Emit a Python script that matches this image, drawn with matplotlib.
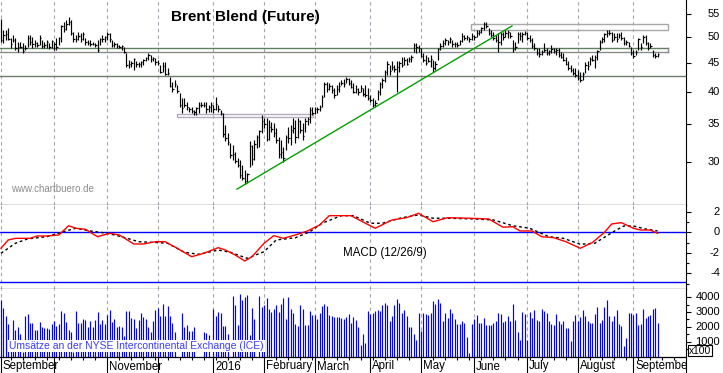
import numpy as np
import pandas as pd
import matplotlib
matplotlib.use("Agg")
import matplotlib.pyplot as plt
from matplotlib.collections import LineCollection
from matplotlib.patches import Rectangle
from matplotlib.lines import Line2D
from matplotlib.ticker import FixedLocator, NullLocator, NullFormatter
from matplotlib.transforms import Bbox, TransformedBbox, blended_transform_factory

plt.rcParams['font.family'] = ['Liberation Sans', 'DejaVu Sans']
plt.rcParams['axes.unicode_minus'] = False

# ---------------- data (daily, business days from 2015-09-01) ----------------
start_date = '2015-09-01'

high = [
    53.9, 51.5, 51.5, 52.0, 49.9, 50.5, 49.9, 49.1, 49.1, 48.9,
    48.5, 50.5, 50.5, 50.1, 49.5, 49.1, 50.5, 49.5, 49.1, 49.5,
    48.9, 49.5, 49.1, 49.9, 50.1, 52.6, 53.3, 53.7, 54.4, 53.7,
    51.1, 50.5, 51.1, 50.9, 51.1, 49.9, 49.5, 49.5, 49.1, 48.9,
    49.5, 49.9, 50.5, 50.3, 51.1, 50.9, 49.5, 49.1, 48.9, 48.5,
    48.5, 48.1, 46.9, 45.6, 45.3, 46.0, 45.3, 45.1, 45.3, 45.8,
    46.2, 46.9, 46.5, 46.2, 46.0, 45.6, 44.6, 45.1, 45.1, 44.1,
    42.5, 41.6, 42.0, 41.1, 39.8, 39.0, 39.0, 38.4, 37.6, 37.5,
    37.1, 37.6, 38.4, 38.4, 38.3, 38.4, 37.9, 38.4, 37.9, 39.2,
    37.9, 37.1, 36.7, 34.9, 33.8, 32.4, 32.1, 31.2, 30.5, 30.2,
    29.6, 29.0, 28.6, 32.6, 32.1, 32.8, 33.5, 34.2, 36.4, 35.9,
    35.9, 35.6, 35.3, 35.2, 34.5, 33.2, 32.8, 31.9, 33.5, 34.6,
    34.9, 35.9, 35.6, 35.9, 35.6, 35.2, 35.9, 36.1, 37.5, 37.6,
    37.5, 37.6, 37.8, 39.5, 41.6, 41.6, 41.5, 41.1, 40.6, 41.1,
    41.6, 42.0, 42.1, 42.5, 42.3, 42.0, 41.5, 41.1, 40.6, 41.1,
    40.6, 41.1, 40.6, 39.5, 39.0, 38.7, 40.3, 41.6, 42.3, 43.7,
    45.3, 44.6, 45.3, 44.6, 45.3, 45.3, 46.2, 46.2, 46.0, 46.2,
    46.5, 48.9, 48.9, 48.5, 47.9, 46.9, 46.5, 46.2, 46.5, 45.6,
    45.3, 47.9, 48.9, 49.5, 49.9, 49.5, 50.1, 49.5, 49.1, 49.1,
    49.5, 50.9, 50.5, 50.5, 50.1, 50.9, 50.5, 51.5, 51.5, 52.2,
    53.3, 53.3, 52.0, 51.5, 51.1, 50.5, 50.9, 51.1, 51.1, 51.5,
    51.5, 51.1, 49.5, 49.1, 51.1, 51.1, 51.1, 51.3, 51.1, 50.5,
    49.9, 48.9, 47.9, 47.9, 47.5, 48.9, 47.9, 47.5, 48.5, 47.9,
    47.9, 47.9, 47.1, 46.9, 46.2, 45.3, 44.6, 44.1, 44.1, 43.7,
    43.4, 43.4, 45.1, 45.3, 46.2, 46.5, 46.5, 47.5, 49.5, 50.1,
    50.9, 51.5, 51.5, 51.1, 50.9, 50.9, 50.9, 51.1, 50.1, 49.5,
    49.1, 48.1, 47.5, 47.5, 49.9, 48.9, 50.5, 50.5, 49.1, 48.9,
    47.5, 46.9, 46.9]

low = [
    49.1, 48.9, 49.5, 49.5, 47.9, 49.1, 47.5, 47.1, 47.9, 46.9,
    47.5, 48.1, 48.5, 47.9, 48.1, 48.1, 48.5, 47.9, 47.9, 47.9,
    47.7, 47.9, 47.5, 47.5, 48.5, 49.1, 51.1, 51.5, 52.6, 50.5,
    49.1, 49.1, 49.5, 49.1, 49.5, 48.5, 48.5, 48.3, 48.5, 48.1,
    47.1, 48.5, 49.1, 49.1, 49.5, 49.1, 48.1, 48.1, 47.9, 47.9,
    47.5, 46.9, 44.3, 44.1, 44.3, 43.7, 44.3, 44.3, 44.3, 44.6,
    45.3, 45.6, 45.1, 45.3, 44.6, 44.6, 43.2, 43.4, 42.8, 42.8,
    40.8, 40.0, 40.8, 39.8, 37.5, 36.7, 37.6, 37.1, 36.8, 36.7,
    36.4, 36.4, 36.7, 37.6, 37.5, 36.7, 36.8, 36.8, 36.7, 37.1,
    36.8, 36.4, 33.2, 32.6, 32.1, 30.4, 30.2, 29.8, 29.3, 28.0,
    27.8, 27.4, 27.5, 29.3, 29.6, 30.2, 31.7, 31.9, 33.8, 34.5,
    32.6, 32.8, 33.9, 33.2, 32.4, 30.5, 30.4, 29.9, 31.5, 32.4,
    32.1, 33.8, 32.4, 33.1, 33.8, 32.8, 33.9, 34.9, 35.2, 36.4,
    36.5, 36.7, 36.9, 37.5, 39.2, 40.0, 40.3, 39.8, 39.0, 39.5,
    40.0, 41.1, 40.8, 41.5, 41.1, 40.6, 39.8, 39.8, 39.5, 40.0,
    39.3, 39.2, 38.7, 38.3, 37.6, 37.5, 38.7, 39.5, 40.6, 41.6,
    42.8, 42.8, 43.7, 43.4, 40.0, 43.4, 44.3, 44.6, 44.6, 45.1,
    45.1, 47.1, 46.9, 47.1, 46.2, 45.1, 44.6, 45.1, 44.3, 43.4,
    43.7, 45.6, 47.5, 48.1, 48.5, 48.5, 48.9, 48.1, 48.1, 48.1,
    48.5, 49.1, 49.5, 49.5, 49.1, 49.5, 49.5, 50.1, 50.5, 50.9,
    51.5, 52.0, 50.5, 50.1, 49.5, 49.1, 47.1, 48.5, 49.5, 50.1,
    49.9, 49.9, 47.1, 47.5, 48.9, 49.5, 49.1, 50.5, 49.5, 49.1,
    47.9, 47.5, 46.5, 46.2, 46.5, 47.1, 46.5, 46.5, 46.9, 46.9,
    46.5, 46.2, 46.0, 45.3, 44.6, 43.7, 43.4, 42.8, 42.5, 42.0,
    41.6, 42.0, 43.2, 43.7, 44.6, 45.3, 44.1, 45.6, 47.5, 48.9,
    49.1, 50.1, 50.5, 49.1, 49.5, 49.1, 49.9, 49.5, 48.5, 48.5,
    48.1, 46.5, 46.0, 46.5, 47.5, 47.5, 48.9, 48.5, 47.5, 47.9,
    46.2, 46.0, 46.2]

close = [
    49.5, 50.5, 50.7, 49.7, 48.6, 49.5, 47.8, 48.0, 48.1, 47.3,
    47.9, 49.8, 49.0, 48.6, 48.9, 48.4, 49.9, 48.3, 48.5, 49.0,
    48.1, 49.2, 48.6, 48.0, 49.8, 52.3, 51.8, 52.9, 53.2, 51.0,
    49.6, 49.7, 50.3, 49.6, 50.7, 49.0, 48.8, 48.6, 48.7, 48.4,
    47.4, 49.7, 49.6, 50.0, 50.6, 49.6, 48.4, 48.6, 48.2, 48.0,
    48.2, 47.1, 44.6, 44.9, 45.0, 45.7, 44.8, 44.9, 45.2, 45.6,
    46.0, 46.5, 45.8, 45.9, 45.2, 45.0, 43.4, 44.4, 43.0, 43.1,
    41.0, 40.4, 41.3, 40.1, 37.9, 37.4, 37.9, 37.6, 37.3, 37.0,
    36.8, 37.4, 37.9, 37.9, 37.8, 37.2, 37.6, 37.9, 37.3, 38.0,
    37.2, 36.6, 33.6, 33.0, 32.5, 30.8, 31.0, 30.1, 29.6, 28.4,
    28.1, 27.7, 28.5, 32.0, 30.3, 32.2, 33.2, 34.0, 35.4, 35.0,
    32.9, 34.6, 34.3, 33.7, 32.8, 31.0, 31.2, 30.4, 33.2, 33.0,
    34.2, 34.4, 33.2, 35.5, 34.2, 33.4, 35.5, 35.8, 37.1, 36.7,
    37.3, 37.2, 37.5, 39.2, 41.2, 40.4, 40.9, 40.2, 39.4, 40.4,
    41.0, 41.4, 41.3, 42.2, 41.4, 40.8, 40.0, 40.4, 39.9, 40.6,
    39.6, 39.5, 39.0, 38.6, 37.9, 38.2, 40.0, 41.2, 42.0, 43.4,
    44.8, 43.6, 44.3, 43.9, 44.3, 45.0, 44.6, 45.6, 44.9, 45.8,
    46.2, 48.5, 48.0, 47.9, 46.4, 45.5, 45.0, 45.4, 45.8, 44.0,
    44.8, 47.6, 48.3, 48.9, 49.4, 49.0, 49.7, 48.6, 48.7, 48.5,
    49.2, 50.3, 49.8, 50.0, 49.6, 50.2, 50.0, 50.9, 51.2, 51.9,
    52.8, 52.4, 50.8, 50.4, 49.8, 49.4, 49.0, 50.6, 50.1, 50.8,
    51.1, 50.3, 47.6, 48.0, 50.7, 50.3, 50.6, 50.8, 49.8, 49.4,
    48.2, 47.8, 46.9, 46.6, 47.0, 47.5, 46.8, 47.2, 47.6, 47.3,
    47.4, 46.5, 46.2, 45.6, 44.9, 44.0, 43.7, 43.1, 42.8, 42.3,
    42.0, 43.0, 44.6, 44.4, 45.8, 45.5, 46.1, 47.2, 49.0, 49.6,
    50.6, 51.0, 50.8, 49.5, 50.1, 49.6, 50.4, 49.9, 48.8, 49.0,
    48.3, 46.8, 46.3, 47.1, 49.6, 48.0, 50.1, 48.9, 47.8, 48.2,
    46.5, 46.3, 46.6]

volume = [
    3800, 3290, 2760, 2210, 410, 2480, 1790, 2020, 1500, 300,
    2710, 2900, 2280, 2280, 1790, 1790, 2350, 2020, 1910, 1910,
    1890, 2210, 2370, 2070, 2210, 3100, 2940, 2320, 1790, 1660,
    300, 3100, 2280, 2280, 2550, 2460, 1960, 2420, 2020, 2440,
    3040, 2190, 2440, 2190, 2830, 3130, 2320, 2550, 1960, 2070,
    1960, 1400, 3060, 3100, 2600, 2530, 1910, 2440, 2970, 2650,
    2510, 1960, 1680, 2370, 3150, 3290, 2760, 3520, 2760, 3380,
    2710, 2250, 1680, 0, 0, 2970, 2020, 2140, 1750, 1750,
    2020, 0, 0, 0, 1630, 1560, 1450, 0, 3240, 2710,
    3010, 2940, 2090, 2090, 1520, 0, 4070, 3470, 2140, 4210,
    3820, 4030, 4160, 1450, 3290, 2530, 0, 4070, 3340, 3470,
    3980, 3240, 3010, 3240, 3470, 3010, 3520, 3980, 2510, 4050,
    3240, 2970, 2190, 2070, 3500, 3200, 2140, 2140, 3100, 2830,
    2830, 2550, 2940, 3430, 3570, 3400, 2830, 2710, 2670, 2670,
    2670, 2580, 2530, 2650, 2880, 2230, 2650, 2440, 2000, 760,
    1520, 940, 3060, 2900, 2940, 3100, 3170, 3100, 3450, 3590,
    3450, 2370, 2760, 3450, 3860, 3590, 2970, 3170, 2760, 2020,
    2020, 1500, 1100, 2970, 1730, 2970, 2880, 2830, 2970, 3750,
    3520, 3860, 3590, 2420, 2970, 2600, 3240, 2970, 2550, 2210,
    2210, 2420, 2280, 1330, 230, 2210, 2510, 2830, 2280, 2280,
    2600, 2140, 2140, 2140, 2250, 2370, 2940, 2900, 2320, 2420,
    2710, 2420, 3520, 2460, 1660, 1100, 3010, 2880, 1100, 2990,
    2600, 3170, 2440, 2370, 3240, 3060, 2920, 2370, 2210, 2140,
    2880, 2370, 2190, 2420, 1910, 1910, 1060, 2420, 2830, 2420,
    2650, 3170, 2710, 2420, 2250, 2250, 2880, 3360, 2250, 2480,
    3360, 3800, 2760, 2420, 2760, 3170, 2190, 2070, 690, 1270,
    2940, 2940, 2830, 2940, 2140, 2210, 3220, 2600, 2710, 2830,
    3240, 3290, 2250]

macd_day = [0, 3, 6, 12, 15, 19, 24, 28, 31, 35, 40, 45, 49, 55, 59, 64, 68, 73,
            79, 84, 90, 93, 97, 101, 104, 109, 113, 117, 122, 127, 132, 136, 145,
            151, 155, 162, 168, 173, 179, 185, 194, 202, 208, 212, 215, 220, 224,
            229, 234, 240, 245, 250, 253, 257, 262, 265, 269, 272]
macd_val = [-1.56, -0.75, -0.59, -0.59, -0.36, -0.36, -0.26, 0.64, 0.39, 0.29,
            -0.43, -0.10, -0.26, -1.14, -1.14, -0.92, -0.92, -1.56, -2.38, -2.05,
            -1.50, -1.73, -2.21, -2.80, -2.38, -1.07, -0.33, -0.59, -0.26, 0.13,
            0.71, 1.62, 1.62, 0.88, 0.39, 1.20, 1.42, 1.85, 1.03, 1.42, 1.37, 1.30,
            0.49, 0.55, 0.13, 0.13, -0.43, -0.53, -0.92, -1.56, -1.00, 0.00, 0.81,
            0.94, 0.39, 0.22, 0.22, -0.10]
signal_day = [0, 6, 11, 19, 25, 31, 37, 44, 50, 57, 63, 69, 76, 82, 90, 95, 102,
              109, 114, 122, 128, 133, 141, 146, 153, 158, 166, 173, 179, 185, 196,
              204, 212, 219, 227, 233, 240, 246, 254, 258, 262, 267, 272]
signal_val = [-2.05, -1.07, -0.65, -0.43, 0.00, 0.39, 0.13, -0.10, -0.43, -0.92,
              -0.98, -1.07, -1.95, -2.15, -1.73, -1.95, -2.54, -1.89, -0.75, -0.53,
              0.06, 0.88, 1.62, 1.62, 0.88, 0.88, 1.42, 1.69, 1.37, 1.37, 1.30, 1.20,
              0.64, 0.39, -0.43, -0.59, -1.17, -1.07, 0.10, 0.61, 0.61, 0.32, 0.13]
macd_levels = [0.0, -4.88]

price_ticks = [30, 35, 40, 45, 50, 55]
macd_ticks = [2, 0, -2, -4]
vol_ticks = [1000, 2000, 3000, 4000]
month_names = {9: 'September', 10: '', 11: 'November', 12: '', 1: '2016', 2: 'February',
               3: 'March', 4: 'April', 5: 'May', 6: 'June', 7: 'July', 8: 'August'}

# drawings on the price panel
trend_day = [97.8, 211.7]
trend_price = [26.8, 52.4]
band_low, band_high, band_end = 47.0, 47.8, 276.3
upper_box = [194.7, 276.3, 51.5, 52.8]
lower_box = [72.9, 129.3, 36.1, 36.5]
support_level = 42.7

# ---------------- layout ----------------
W, H = 723.0, 373.0
XR = 686.0
PX_PER_DAY = 2.414
xmin = -0.4
xmax = xmin + XR / PX_PER_DAY

n = len(close)
assert len(high) == n and len(low) == n and len(volume) == n, (len(high), len(low), len(close), len(volume))
days = np.arange(n)
axis_dates = pd.bdate_range(start_date, periods=int(xmax) + 5)
month_starts = [k for k in range(len(axis_dates))
                if (k == 0 or axis_dates[k].month != axis_dates[k - 1].month) and k <= xmax]
mondays = [k for k in range(len(axis_dates)) if axis_dates[k].weekday() == 0 and k <= xmax]

fig = plt.figure(figsize=(7.23, 3.73), dpi=100)
fig.patch.set_facecolor('white')


def rect(top, bot):
    return [0.0, 1 - bot / H, XR / W, (bot - top) / H]


ax1 = fig.add_axes(rect(0, 205))
ax2 = fig.add_axes(rect(205, 289.3))
ax3 = fig.add_axes(rect(289.3, 356.5))

grid_col = '#aaa2b0'
for ax in (ax1, ax2, ax3):
    ax.set_xlim(xmin, xmax)
    ax.spines['left'].set_visible(False)
    ax.spines['top'].set_visible(False)
    ax.spines['right'].set_linewidth(0.8)
    ax.spines['bottom'].set_linewidth(0.9)
    for m in month_starts:
        ax.axvline(m, color=grid_col, lw=0.8, ls=(0, (3, 3)), zorder=0)
    ax.yaxis.set_ticks_position('right')
    ax.yaxis.set_major_formatter(NullFormatter())
    ax.yaxis.set_minor_locator(NullLocator())
    ax.tick_params(axis='y', which='major', direction='out', length=3.5, width=0.8)
    ax.tick_params(axis='y', which='minor', direction='out', length=2, width=0.8)

ax1.tick_params(axis='x', bottom=False, labelbottom=False)
ax2.tick_params(axis='x', bottom=False, labelbottom=False)

# ---- price panel ----
ax1.set_yscale('log')
ax1.set_ylim(25.1, 58.3)
ax1.yaxis.set_major_locator(FixedLocator(price_ticks))
ax1.yaxis.set_minor_locator(NullLocator())
ax1.yaxis.set_major_formatter(NullFormatter())
ax1.yaxis.set_minor_formatter(NullFormatter())

segs = [[(d, l), (d, h)] for d, l, h in zip(days, low, high)]
segs += [[(d, c), (d + 0.6, c)] for d, c in zip(days, close)]
ax1.add_collection(LineCollection(segs, colors='black', linewidths=0.85, zorder=3))

ax1.plot([xmin, band_end], [band_high, band_high], color='#5f7f5f', lw=1.0, zorder=2)
ax1.plot([xmin, band_end], [band_low, band_low], color='#8c8c8c', lw=1.0, zorder=2)
ax1.plot([band_end, band_end], [band_low, band_high], color='#8c8c8c', lw=1.0, zorder=2)
ax1.axhline(support_level, color='#707a70', lw=1.0, zorder=2)
ax1.add_patch(Rectangle((upper_box[0], upper_box[2]), upper_box[1] - upper_box[0],
                        upper_box[3] - upper_box[2], fill=False, ec='#a8a8a8', lw=1.0, zorder=2))
ax1.add_patch(Rectangle((lower_box[0], lower_box[2]), lower_box[1] - lower_box[0],
                        lower_box[3] - lower_box[2], fill=False, ec='#b4acb8', lw=1.0, zorder=2))
ax1.plot(trend_day, trend_price, color='#00a000', lw=1.0, zorder=4)

# ---- MACD panel ----
ax2.set_ylim(-5.56, 2.66)
ax2.yaxis.set_major_locator(FixedLocator(macd_ticks))
ax2.yaxis.set_minor_locator(FixedLocator([1, -1, -3, -5]))
ax2.yaxis.set_minor_formatter(NullFormatter())
for lv in macd_levels:
    ax2.axhline(lv, color='#0000ff', lw=1.0, zorder=2)
ax2.plot(signal_day, signal_val, color='black', lw=1.0, ls=(0, (2, 2)), zorder=3)
ax2.plot(macd_day, macd_val, color='#ff0000', lw=1.0, zorder=4)

# ---- volume panel ----
ax3.set_ylim(0, 4540)
ax3.yaxis.set_major_locator(FixedLocator(vol_ticks))
ax3.yaxis.set_minor_locator(FixedLocator([500, 1500, 2500, 3500]))
ax3.yaxis.set_minor_formatter(NullFormatter())
ax3.vlines(days, 0, volume, colors='#0000ff', lw=0.85, zorder=3)
ax3.xaxis.set_major_locator(FixedLocator(month_starts))
ax3.xaxis.set_minor_locator(FixedLocator(mondays))
ax3.xaxis.set_major_formatter(NullFormatter())
ax3.tick_params(axis='x', which='major', direction='out', length=11.8, width=0.8)
ax3.tick_params(axis='x', which='minor', direction='out', length=2.3, width=0.8)

# right extension of the axis line through the label row
fig.add_artist(Line2D([XR / W, XR / W], [0, 1 - 356.5 / H], transform=fig.transFigure,
                      color='black', lw=0.8))

# right-hand tick labels (right aligned)
lab_x = 720 / W
for ax, ticks in ((ax1, price_ticks), (ax2, macd_ticks), (ax3, vol_ticks)):
    tr = blended_transform_factory(fig.transFigure, ax.transData)
    for v in ticks:
        ax.text(lab_x, v, str(v), transform=tr, ha='right', va='center', fontsize=8,
                clip_on=False)

# month labels below the volume panel, clipped at the right axis
clip = TransformedBbox(Bbox([[0, 0], [XR / W, 1]]), fig.transFigure)
for m in month_starts:
    name = month_names[axis_dates[m].month]
    if not name:
        continue
    xpx = (m - xmin) * PX_PER_DAY + 1.8
    t = fig.text(xpx / W, 1 - 366.5 / H, name, ha='left', va='center', fontsize=8.3)
    t.set_clip_box(clip)
    t.set_clip_on(True)

# texts
fig.text(245 / W, 1 - 17.5 / H, 'Brent Blend (Future)', ha='center', va='center',
         fontsize=11, fontweight='bold')
fig.text(11.5 / W, 1 - 189 / H, 'www.chartbuero.de', ha='left', va='center',
         fontsize=7, color='#8c8c8c')
fig.text(385 / W, 1 - 253 / H, 'MACD (12/26/9)', ha='center', va='center', fontsize=8.3)
fig.text(9 / W, 1 - 345.7 / H, 'Umsätze an der NYSE Intercontinental Exchange (ICE)',
         ha='left', va='center', fontsize=7.5, color='#3c3cff', zorder=10,
         bbox=dict(boxstyle='square,pad=0.1', fc='white', ec='none'))
fig.text(700 / W, 1 - 350.5 / H, 'x100', ha='center', va='center', fontsize=7.4,
         zorder=10,
         bbox=dict(boxstyle='square,pad=0.08', fc='white', ec='black', lw=0.8))

fig.savefig('out.png', dpi=100)
